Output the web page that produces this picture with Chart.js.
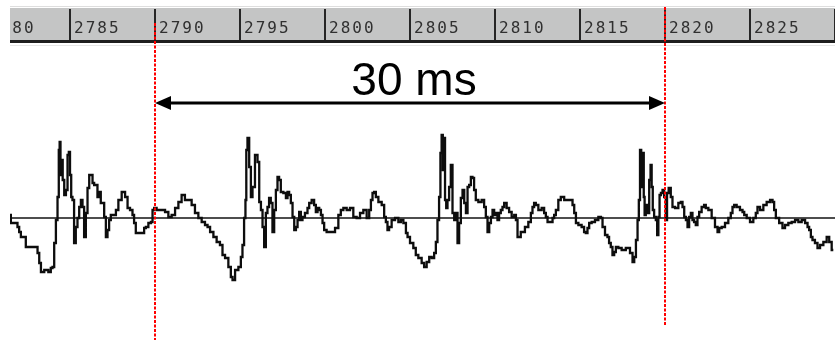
<!DOCTYPE html>
<html>
<head>
<meta charset="utf-8">
<script src="https://cdn.jsdelivr.net/npm/chart.js@4/dist/chart.umd.min.js"></script>
<style>
  html, body { margin: 0; padding: 0; background: #fff; }
  canvas { display: block; }
</style>
</head>
<body>
<canvas id="wave" width="835" height="340"></canvas>
<script>
// Time (ms) of each recorded sample step and its amplitude (arbitrary units).
const timeMs = [
  2781.47, 2781.57, 2781.86, 2781.96, 2782.06, 2782.16, 2782.35, 2782.45, 2783.04, 2783.14,
  2783.24, 2783.34, 2783.63, 2783.82, 2783.92, 2784.02, 2784.12, 2784.22, 2784.31, 2784.37,
  2784.41, 2784.47, 2784.53, 2784.61, 2784.71, 2784.81, 2784.90, 2784.96, 2785.04, 2785.10,
  2785.19, 2785.29, 2785.39, 2785.49, 2785.59, 2785.69, 2785.78, 2785.88, 2785.98, 2786.08,
  2786.18, 2786.28, 2786.37, 2786.47, 2786.57, 2786.66, 2786.76, 2786.86, 2786.96, 2787.06,
  2787.16, 2787.25, 2787.35, 2787.45, 2787.65, 2787.75, 2787.94, 2788.14, 2788.34, 2788.43,
  2788.63, 2788.72, 2788.82, 2788.92, 2789.31, 2789.41, 2789.51, 2789.71, 2789.81, 2789.90,
  2790.00, 2790.19, 2790.49, 2790.69, 2790.88, 2791.08, 2791.28, 2791.47, 2791.66, 2791.86,
  2792.06, 2792.25, 2792.45, 2792.65, 2792.84, 2793.04,
  2793.14, 2793.34, 2793.53, 2793.72, 2793.92, 2794.02, 2794.22, 2794.41, 2794.51, 2794.61,
  2794.81, 2795.00, 2795.10, 2795.19, 2795.29, 2795.35, 2795.39, 2795.49, 2795.59, 2795.69,
  2795.78, 2795.98, 2796.08, 2796.18, 2796.28, 2796.37, 2796.47, 2796.57, 2796.66, 2796.76,
  2796.86, 2796.96, 2797.06, 2797.16, 2797.25, 2797.35, 2797.45, 2797.65, 2797.75, 2797.84,
  2797.94, 2798.04, 2798.14, 2798.24, 2798.34, 2798.43, 2798.53, 2798.63, 2798.72, 2798.92,
  2799.02, 2799.12, 2799.31, 2799.41, 2799.51, 2799.61, 2799.71, 2799.81, 2799.90, 2800.00,
  2800.19, 2800.49, 2800.69, 2800.88, 2800.98, 2801.18, 2801.37, 2801.57, 2801.76, 2801.96,
  2802.16, 2802.35, 2802.55, 2802.65, 2802.75, 2802.84, 2802.94, 2803.04, 2803.24, 2803.43,
  2803.53, 2803.63, 2803.72, 2803.82, 2804.02, 2804.22, 2804.41, 2804.51, 2804.71, 2804.81,
  2804.90,
  2805.10, 2805.29, 2805.39, 2805.59, 2805.78, 2805.88, 2806.08, 2806.18, 2806.37, 2806.47,
  2806.57, 2806.66, 2806.76, 2806.82, 2806.90, 2806.96, 2807.02, 2807.10, 2807.16, 2807.25,
  2807.35, 2807.45, 2807.55, 2807.65, 2807.75, 2807.84, 2807.94, 2808.04, 2808.14, 2808.24,
  2808.34, 2808.43, 2808.53, 2808.63, 2808.72, 2808.82, 2808.92, 2809.12, 2809.31, 2809.41,
  2809.51, 2809.61, 2809.71, 2809.81, 2809.90, 2810.00, 2810.10, 2810.19, 2810.29, 2810.39,
  2810.49, 2810.59, 2810.78, 2810.88, 2811.08, 2811.18, 2811.28, 2811.37, 2811.66, 2811.86,
  2812.06, 2812.16, 2812.25, 2812.35, 2812.45, 2812.65, 2812.84, 2812.94, 2813.04, 2813.14,
  2813.34, 2813.43, 2813.53, 2813.63, 2813.82, 2813.92, 2814.22, 2814.51, 2814.61, 2814.71,
  2814.81, 2815.00, 2815.19, 2815.29, 2815.39, 2815.49, 2815.59, 2815.78, 2815.98, 2816.18,
  2816.28, 2816.37, 2816.57, 2816.66, 2816.76,
  2816.86, 2816.96, 2817.06, 2817.16, 2817.35, 2817.55, 2817.84, 2818.04, 2818.14, 2818.24,
  2818.34, 2818.43, 2818.49, 2818.57, 2818.63, 2818.72, 2818.78, 2818.82, 2818.92, 2819.02,
  2819.12, 2819.18, 2819.25, 2819.31, 2819.41, 2819.51, 2819.57, 2819.65, 2819.71, 2819.81,
  2819.90, 2820.00, 2820.10, 2820.14, 2820.29, 2820.39, 2820.49, 2820.69, 2820.88, 2820.98,
  2821.08, 2821.18, 2821.28, 2821.37, 2821.47, 2821.57, 2821.66, 2821.76, 2821.86, 2821.96,
  2822.06, 2822.25, 2822.35, 2822.45, 2822.65, 2822.84, 2823.04, 2823.14, 2823.24, 2823.43,
  2823.63, 2823.82, 2823.92, 2824.02, 2824.12, 2824.31, 2824.51, 2824.61, 2824.71, 2824.90,
  2825.10, 2825.29, 2825.39, 2825.49, 2825.69, 2825.88, 2826.08, 2826.28, 2826.37, 2826.47,
  2826.57, 2826.86, 2826.96, 2827.16, 2827.35, 2827.55, 2827.75, 2827.94, 2828.14, 2828.34,
  2828.43, 2828.53, 2828.63, 2828.72, 2828.92, 2829.02, 2829.22, 2829.41, 2829.61, 2829.71,
  2829.90
];

const amplitude = [
  3, -5, -5, -9, -14, -19, -19, -29, -29, -35,
  -45, -54, -52, -54, -50, -49, -25, -2, 21, 68,
  76, 43, 58, 38, 23, 28, 63, 66, 43, 21,
  18, -25, -9, 0, 11, 18, 11, -19, 5, 30,
  43, 43, 35, 33, 33, 21, 26, 15, 15, 1,
  -19, -12, -2, 3, 3, 8, 18, 26, 21, 10,
  8, 3, -5, -15, -15, -10, -9, -5, -4, 8,
  10, 8, 8, 6, 1, 3, 10, 16, 23, 18,
  18, 13, 5, 0, -4, -7,
  -9, -14, -19, -24, -27, -37, -40, -49, -59, -62,
  -52, -49, -39, -27, 0, 18, 68, 80, 51, 21,
  31, 63, 56, 16, 8, -9, -29, 5, 11, 20,
  15, -14, 8, 28, 41, 38, 26, 25, 20, 26,
  23, 15, 1, -12, -9, -2, 6, -2, 1, 5,
  10, 15, 18, 13, 6, 10, 8, 3, -5, -12,
  -14, -14, -10, 3, 8, 10, 8, 10, 1, 0,
  5, 8, 0, 8, 18, 25, 26, 21, 16, 13,
  1, -4, -12, -9, -2, 0, -4, -2, -5, -15,
  -19,
  -25, -30, -37, -40, -45, -49, -44, -39, -40, -35,
  -24, -2, 21, 65, 83, 48, 80, 18, 10, 18,
  31, 53, 5, -2, 5, -25, -5, 20, 28, 15,
  5, 31, 33, 41, 40, 28, 18, 16, 18, 11,
  1, -14, -5, 1, 8, 3, 5, -2, 5, 8,
  11, 15, 10, 6, 1, 3, -2, -19, -14, -9,
  -4, 5, 11, 15, 13, 8, 10, 5, 1, -4,
  -4, 0, 3, 8, 18, 21, 18, 18, 13, 5,
  -5, -7, -9, -14, -15, -10, -5, -4, -2, 1,
  0, -9, -17, -19, -25,
  -29, -37, -34, -29, -30, -32, -30, -35, -44, -39,
  -22, -2, 18, 68, 31, 65, 21, 3, 13, 5,
  38, 53, 31, 8, 1, -2, -17, 1, 23, 25,
  28, 21, -2, 25, 30, 21, 11, 10, 15, 16,
  11, 1, -2, -9, 1, 5, -2, -4, -7, 1,
  6, 11, 13, 10, 8, 0, -9, -14, -10, -9,
  -5, 0, 5, 11, 13, 11, 8, 6, 3, 0,
  -4, 0, 5, 11, 8, 13, 16, 18, 16, 8,
  0, -5, -10, -7, -5, -4, -2, -4, -2, -5,
  -9, -12, -19, -22, -25, -30, -27, -24, -19, -24,
  -32
];

// Ruler tick values (ms) shown in the time strip.
const rulerTicks = [2780, 2785, 2790, 2795, 2800, 2805, 2810, 2815, 2820, 2825, 2830];

// Cursor positions (ms) bracketing one period.
const markerTimes = [2790, 2820];

const VIEW_END_MS = 2830;

const wavePoints = timeMs.map((t, i) => ({ x: t, y: amplitude[i] }));
const baseline = [{ x: timeMs[0], y: 0 }, { x: VIEW_END_MS, y: 0 }];

// Time strip along the top: grey band, divider marks and labels.
const rulerPlugin = {
  id: 'ruler',
  beforeDraw(chart) {
    const { ctx, chartArea, scales: { x } } = chart;
    const L = chartArea.left, R = chartArea.right;
    ctx.save();
    ctx.fillStyle = '#ffffff';
    ctx.fillRect(0, 0, chart.width, chart.height);
    ctx.beginPath();
    ctx.rect(L, 0, R - L, 50);
    ctx.clip();
    ctx.fillStyle = '#dedede';
    ctx.fillRect(L, 6, R - L, 1);
    ctx.fillStyle = '#c4c5c5';
    ctx.fillRect(L, 8, R - L, 32);
    ctx.fillStyle = '#1e1e1e';
    ctx.fillRect(L, 40, R - L, 3);
    ctx.fillStyle = '#e6e6e6';
    ctx.fillRect(L, 45, R - L, 1);
    ctx.font = '16px "DejaVu Sans Mono"';
    if ('letterSpacing' in ctx) ctx.letterSpacing = '2px';
    ctx.textAlign = 'left';
    ctx.textBaseline = 'alphabetic';
    rulerTicks.forEach(v => {
      const px = Math.round(x.getPixelForValue(v));
      ctx.fillStyle = '#262626';
      ctx.fillRect(px - 1, 9, 2, 31);
      ctx.fillStyle = '#303030';
      ctx.fillText(String(v), px + 4, 33);
    });
    ctx.restore();
  }
};

// Red dotted cursors, double-headed arrow and period label.
const periodPlugin = {
  id: 'period',
  afterDatasetsDraw(chart) {
    const { ctx, scales: { x } } = chart;
    const x0 = Math.round(x.getPixelForValue(markerTimes[0]));
    const x1 = Math.round(x.getPixelForValue(markerTimes[1]));
    const spans = [[23, 340], [7, 325]];
    ctx.save();
    ctx.strokeStyle = '#ff0000';
    ctx.lineWidth = 2;
    ctx.setLineDash([3, 1.5]);
    [x0, x1].forEach((px, i) => {
      ctx.beginPath();
      ctx.moveTo(px, spans[i][0]);
      ctx.lineTo(px, spans[i][1]);
      ctx.stroke();
    });
    ctx.setLineDash([]);

    const ay = 103, head = 16, half = 7;
    ctx.strokeStyle = '#000';
    ctx.lineWidth = 3;
    ctx.beginPath();
    ctx.moveTo(x0 + head - 2, ay);
    ctx.lineTo(x1 - head + 2, ay);
    ctx.stroke();
    ctx.fillStyle = '#000';
    ctx.beginPath();
    ctx.moveTo(x0, ay);
    ctx.lineTo(x0 + head, ay - half);
    ctx.lineTo(x0 + head, ay + half);
    ctx.closePath();
    ctx.fill();
    ctx.beginPath();
    ctx.moveTo(x1, ay);
    ctx.lineTo(x1 - head, ay - half);
    ctx.lineTo(x1 - head, ay + half);
    ctx.closePath();
    ctx.fill();

    ctx.font = '46px "Liberation Sans", Arial, sans-serif';
    ctx.textAlign = 'center';
    ctx.textBaseline = 'alphabetic';
    ctx.fillText((markerTimes[1] - markerTimes[0]) + ' ms', (x0 + x1) / 2 + 4, 95);
    ctx.restore();
  }
};

new Chart(document.getElementById('wave'), {
  type: 'line',
  data: {
    datasets: [
      {
        label: 'waveform',
        data: wavePoints,
        borderColor: '#0d0d0d',
        borderWidth: 2.3,
        pointRadius: 0,
        stepped: 'middle',
        fill: false,
        order: 0
      },
      {
        label: 'zero',
        data: baseline,
        borderColor: '#4d4d4d',
        borderWidth: 2,
        pointRadius: 0,
        fill: false,
        order: 1
      }
    ]
  },
  options: {
    responsive: false,
    animation: false,
    devicePixelRatio: 1,
    layout: { padding: { left: 10, right: 0, top: 0, bottom: 0 } },
    plugins: { legend: { display: false }, tooltip: { enabled: false } },
    scales: {
      x: { type: 'linear', display: false, min: timeMs[0], max: VIEW_END_MS },
      y: { type: 'linear', display: false, min: -122, max: 218 }
    }
  },
  plugins: [rulerPlugin, periodPlugin]
});
</script>
</body>
</html>
